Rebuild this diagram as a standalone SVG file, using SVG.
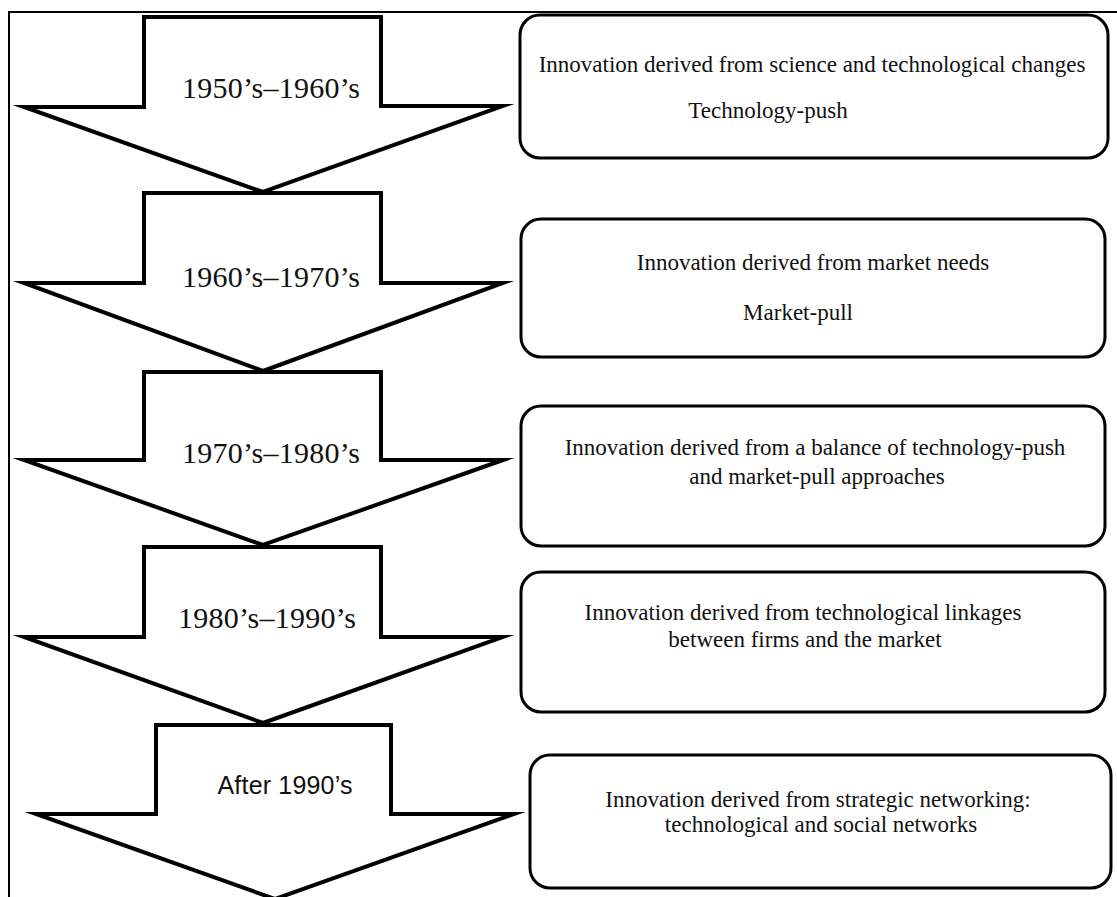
<svg xmlns="http://www.w3.org/2000/svg" width="1117" height="897" viewBox="0 0 1117 897">
  <style>
    .frame { fill: none; stroke: #000; stroke-width: 2; }
    .arrow { fill: #fff; stroke: #000; stroke-width: 4; stroke-linejoin: miter; stroke-miterlimit: 12; }
    .box { fill: #fff; stroke: #000; stroke-width: 3; }
    .era { font-family: "Liberation Serif", "Times New Roman", serif; font-size: 30px; fill: #111; text-anchor: middle; }
    .era-sans { font-family: "Liberation Sans", Arial, sans-serif; font-size: 25px; fill: #111; text-anchor: middle; }
    .desc { font-family: "Liberation Serif", "Times New Roman", serif; font-size: 23px; fill: #111; text-anchor: middle; }
  </style>

  <rect width="1117" height="897" fill="#fff"/>

  <!-- page frame: top and left rules -->
  <path class="frame" d="M9 897 V12 H1117"/>

  <!-- timeline arrows -->
  <g id="era-1950s">
    <polygon class="arrow" points="144,17 381,17 381,106 503,106 263,192 24,107 144,107"/>
    <text class="era" x="271" y="98" textLength="178">1950’s–1960’s</text>
  </g>
  <g id="era-1960s">
    <polygon class="arrow" points="144,193 381,193 381,283 503,283 263,371 24,283 144,283"/>
    <text class="era" x="271" y="287" textLength="178">1960’s–1970’s</text>
  </g>
  <g id="era-1970s">
    <polygon class="arrow" points="144,372 381,372 381,460 503,460 263,545 24,460 144,460"/>
    <text class="era" x="271" y="463" textLength="178">1970’s–1980’s</text>
  </g>
  <g id="era-1980s">
    <polygon class="arrow" points="144,547 381,547 381,637 503,637 263,723 24,637 144,637"/>
    <text class="era" x="267" y="628" textLength="178">1980’s–1990’s</text>
  </g>
  <g id="era-after-1990s">
    <polygon class="arrow" points="156,725 391,725 391,814 514,814 275,899 36,814 156,814"/>
    <text class="era-sans" x="285" y="794" textLength="135">After 1990’s</text>
  </g>

  <!-- description boxes -->
  <g id="desc-technology-push">
    <rect class="box" x="520" y="15" width="588" height="143" rx="20"/>
    <text class="desc" x="812" y="72">Innovation derived from science and technological changes</text>
    <text class="desc" x="768" y="118">Technology-push</text>
  </g>
  <g id="desc-market-pull">
    <rect class="box" x="521" y="219" width="584" height="138" rx="20"/>
    <text class="desc" x="813" y="270">Innovation derived from market needs</text>
    <text class="desc" x="798" y="320">Market-pull</text>
  </g>
  <g id="desc-balance">
    <rect class="box" x="521" y="406" width="584" height="140" rx="20"/>
    <text class="desc" x="815" y="455">Innovation derived from a balance of technology-push</text>
    <text class="desc" x="817" y="484">and market-pull  approaches</text>
  </g>
  <g id="desc-linkages">
    <rect class="box" x="521" y="572" width="584" height="140" rx="20"/>
    <text class="desc" x="803" y="620">Innovation derived from technological linkages</text>
    <text class="desc" x="805" y="647">between firms and the market</text>
  </g>
  <g id="desc-networking">
    <rect class="box" x="530" y="755" width="581" height="133" rx="20"/>
    <text class="desc" x="818" y="807">Innovation derived from strategic networking:</text>
    <text class="desc" x="821" y="832">technological and social networks</text>
  </g>

  <!-- connectors: the arrows chain directly into each other, no separate links -->
  <g id="connectors"/>
</svg>
